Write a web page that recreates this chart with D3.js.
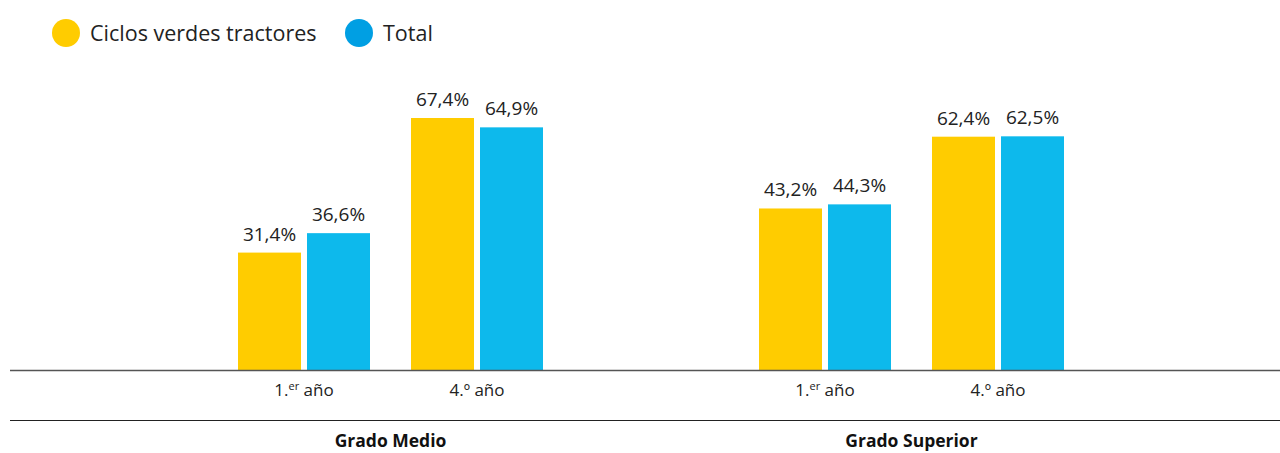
<!DOCTYPE html>
<html><head><meta charset="utf-8">
<script src="https://cdn.jsdelivr.net/npm/d3@7"></script>
<style>body{margin:0;background:#fff}svg{display:block;font-family:"Open Sans",sans-serif}</style>
</head><body><svg id="c" width="1280" height="453"></svg>
<script>
const groups = ["Grado Medio", "Grado Superior"];
const years = ["1.er año", "4.º año"];
const series = ["Ciclos verdes tractores", "Total"];
const greenValues = [31.4, 67.4, 43.2, 62.4];   // GM 1er, GM 4º, GS 1er, GS 4º
const totalValues = [36.6, 64.9, 44.3, 62.5];
const barColors = ["#FFCC00", "#0DB9EC"];
const legendColors = ["#FFCC00", "#009FE3"];

const svg = d3.select("#c");
const base = 370;
const y = d3.scaleLinear().domain([0, 67.4]).range([base, 118]);
const gx = d3.scaleBand().domain(groups).range([130, 1172]);
const yx = d3.scaleBand().domain(years).range([0, 346]);
const sx = d3.scaleBand().domain(series).range([-69, 69]).paddingInner(6/69).paddingOuter(3/69);

const data = [];
groups.forEach((g, gi) => years.forEach((yr, yi) => {
  const k = gi * 2 + yi;
  [greenValues[k], totalValues[k]].forEach((v, si) => data.push({g, yr, s: series[si], si, v}));
}));
const subCenter = (g, yr) => gx(g) + gx.bandwidth() / 2 - 173 + yx(yr) + yx.bandwidth() / 2;

svg.selectAll("rect.bar").data(data).join("rect").attr("class", "bar")
  .attr("x", d => subCenter(d.g, d.yr) + sx(d.s))
  .attr("width", sx.bandwidth())
  .attr("y", d => y(d.v)).attr("height", d => base - y(d.v))
  .attr("fill", d => barColors[d.si]);

svg.selectAll("text.val").data(data).join("text").attr("class", "val")
  .attr("x", d => subCenter(d.g, d.yr) + sx(d.s) + sx.bandwidth() / 2)
  .attr("y", d => y(d.v) - 12)
  .attr("text-anchor", "middle").attr("font-size", 19).attr("fill", "#222")
  .text(d => d.v.toFixed(1).replace(".", ",") + "%");

// axis lines
svg.append("line").attr("x1", 10).attr("x2", 1280).attr("y1", base + 0.5).attr("y2", base + 0.5)
  .attr("stroke", "#555").attr("stroke-width", 1.5);
svg.append("line").attr("x1", 10).attr("x2", 1280).attr("y1", 420.5).attr("y2", 420.5)
  .attr("stroke", "#222").attr("stroke-width", 1.2);

// year labels with superscript
groups.forEach(g => years.forEach(yr => {
  const m = yr.match(/^(\d\.)(er|º) (.*)$/);
  const t = svg.append("text").attr("x", subCenter(g, yr)).attr("y", 396)
    .attr("text-anchor", "middle").attr("font-size", 17).attr("fill", "#222");
  t.append("tspan").text(m[1]);
  if (m[2] === "er") {
    t.append("tspan").attr("dy", -6).attr("font-size", 11).text("er");
    t.append("tspan").attr("dy", 6).text(" " + m[3]);
  } else {
    t.append("tspan").text("º " + m[3]);
  }
}));

// group labels
svg.selectAll("text.grp").data(groups).join("text").attr("class", "grp")
  .attr("x", d => gx(d) + gx.bandwidth() / 2).attr("y", 447)
  .attr("text-anchor", "middle").attr("font-size", 17.5).attr("font-weight", "bold").attr("fill", "#111")
  .text(d => d);

// legend
const legX = [66, 359];
series.forEach((s, i) => {
  svg.append("circle").attr("cx", legX[i]).attr("cy", 33).attr("r", 14).attr("fill", legendColors[i]);
  svg.append("text").attr("x", legX[i] + 24).attr("y", 41).attr("font-size", 21.5).attr("fill", "#222").text(s);
});
</script></body></html>
